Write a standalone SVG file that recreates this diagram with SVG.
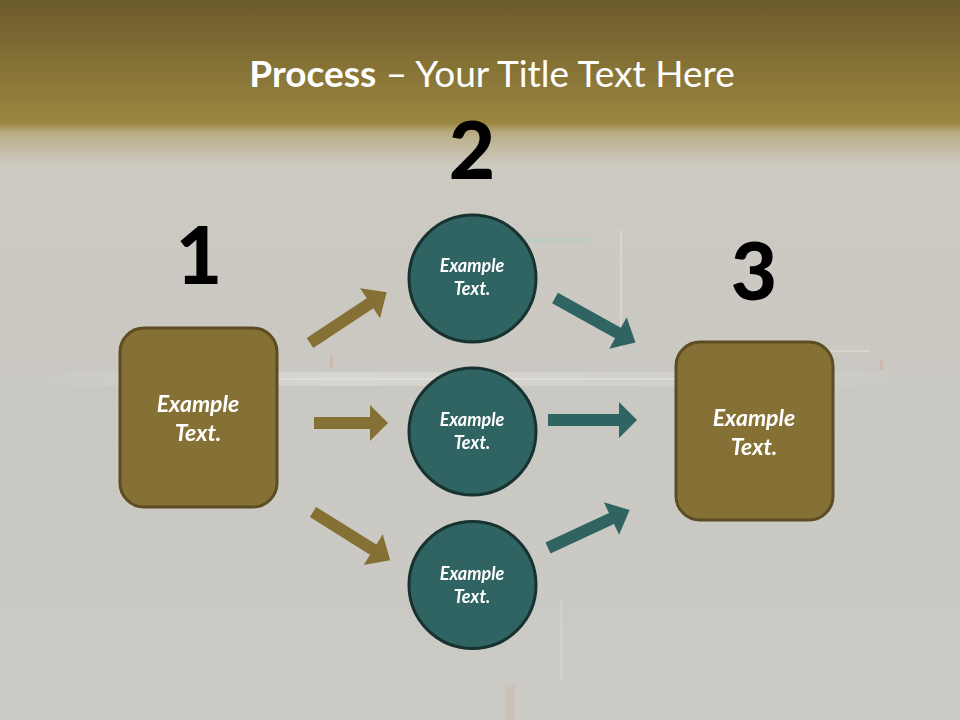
<svg xmlns="http://www.w3.org/2000/svg" width="960" height="720" viewBox="0 0 960 720">
<defs>
<linearGradient id="bg" x1="0" y1="0" x2="0" y2="720" gradientUnits="userSpaceOnUse">
<stop offset="0" stop-color="#6c5b2c"/>
<stop offset="0.17" stop-color="#9b863f"/>
<stop offset="0.185" stop-color="#b9ad86"/>
<stop offset="0.23" stop-color="#cdcac2"/>
<stop offset="0.55" stop-color="#cac8c2"/>
<stop offset="1" stop-color="#cccac5"/>
</linearGradient>
<linearGradient id="band" x1="0" y1="0" x2="1" y2="0">
<stop offset="0" stop-color="#ffffff" stop-opacity="0"/>
<stop offset="0.35" stop-color="#ffffff" stop-opacity="0.55"/>
<stop offset="0.7" stop-color="#ffffff" stop-opacity="0.35"/>
<stop offset="1" stop-color="#ffffff" stop-opacity="0"/>
</linearGradient>
</defs>
<style>
.box{fill:#857035;stroke:#5e4c22;stroke-width:3}
.circ{fill:#2f6462;stroke:#173230;stroke-width:3}
.lbl{fill:#ffffff;font-family:Lato,"Open Sans",sans-serif;font-weight:bold;font-style:italic;text-anchor:middle}
.num{fill:#000000;font-family:Lato,"Open Sans",sans-serif;font-weight:900;font-size:80px;text-anchor:middle}
.gold{fill:#857035}
.teal{fill:#2f6462}
</style>
<rect width="960" height="720" fill="url(#bg)"/>
<g id="texture" opacity="0.45">
<rect x="0" y="372" width="960" height="14" fill="url(#band)"/>
<rect x="260" y="378" width="420" height="2" fill="#ffffff" opacity="0.7"/>
<rect x="620" y="230" width="2" height="120" fill="#ffffff" opacity="0.5"/>
<rect x="520" y="238" width="70" height="5" fill="#8fd6c8" opacity="0.5"/>
<rect x="330" y="355" width="3" height="12" fill="#e07050" opacity="0.4"/>
<rect x="880" y="360" width="3" height="10" fill="#e07050" opacity="0.4"/>
<rect x="830" y="350" width="40" height="2" fill="#ffffff" opacity="0.5"/>
<rect x="560" y="600" width="2" height="80" fill="#ffffff" opacity="0.35"/>
<rect x="505" y="685" width="10" height="35" fill="#e08060" opacity="0.25"/>
</g>
<text x="492" y="87" fill="#ffffff" font-family="Lato,'Open Sans',sans-serif" font-size="37" text-anchor="middle"><tspan font-weight="bold">Process</tspan> – Your Title Text Here</text>
<g id="connectors">
<path class="gold" transform="translate(310,343) rotate(-33.5)" d="M0,-6 H72 V-18 L92,0 L72,18 V6 H0 Z"/>
<path class="gold" d="M314,417 H370 V405 L388,423 L370,441 V429 H314 Z"/>
<path class="gold" transform="translate(313,512) rotate(32)" d="M0,-6 H71 V-18 L91,0 L71,18 V6 H0 Z"/>
<path class="teal" transform="translate(555,298) rotate(29)" d="M0,-6 H72 V-18 L92,0 L72,18 V6 H0 Z"/>
<path class="teal" d="M548,414 H619 V402 L637,420 L619,438 V426 H548 Z"/>
<path class="teal" transform="translate(548,548) rotate(-24.9)" d="M0,-6 H70 V-18 L90,0 L70,18 V6 H0 Z"/>
</g>
<g id="num1"><text class="num" x="199" y="284">1</text></g>
<g id="num2"><text class="num" x="472" y="179">2</text></g>
<g id="num3"><text class="num" x="754" y="300">3</text></g>
<g id="box1">
<rect class="box" x="120" y="328" width="157" height="179" rx="24"/>
<text class="lbl" font-size="23" x="198" y="412">Example</text>
<text class="lbl" font-size="23" x="198" y="441">Text.</text>
</g>
<g id="circle1">
<circle class="circ" cx="472.5" cy="278.5" r="63.5"/>
<text class="lbl" font-size="18" x="472" y="272">Example</text>
<text class="lbl" font-size="18" x="472" y="295">Text.</text>
</g>
<g id="circle2">
<circle class="circ" cx="472.5" cy="431.5" r="63.5"/>
<text class="lbl" font-size="18" x="472" y="426">Example</text>
<text class="lbl" font-size="18" x="472" y="449">Text.</text>
</g>
<g id="circle3">
<circle class="circ" cx="472.5" cy="585" r="63.5"/>
<text class="lbl" font-size="18" x="472" y="580">Example</text>
<text class="lbl" font-size="18" x="472" y="603">Text.</text>
</g>
<g id="box3">
<rect class="box" x="676" y="342" width="157" height="178" rx="24"/>
<text class="lbl" font-size="23" x="754" y="426">Example</text>
<text class="lbl" font-size="23" x="754" y="455">Text.</text>
</g>
</svg>
